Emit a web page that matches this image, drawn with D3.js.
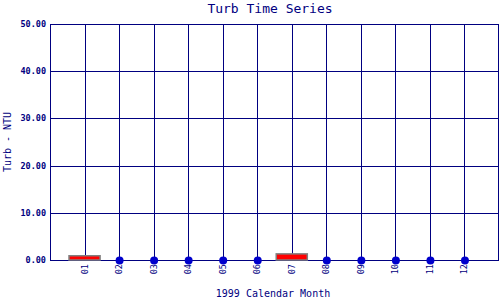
<!DOCTYPE html>
<html>
<head>
    <meta charset="utf-8">
    <title>Turb Time Series</title>
    <script src="https://d3js.org/d3.v7.min.js"></script>
    <style>
        body {
            margin: 0;
            background-color: white;
        }
        svg {
            display: block;
            font-family: "DejaVu Sans Mono", monospace;
        }
        .grid line,
        .frame {
            stroke: #000080;
            stroke-width: 1px;
            fill: none;
            shape-rendering: crispEdges;
        }
        .bar {
            fill: #ff0000;
            stroke: #808080;
            stroke-width: 1.5px;
        }
        .dot {
            fill: #0000cc;
        }
    </style>
</head>
<body>
    <svg width="500" height="300"></svg>

    <script>
        const months = ["01", "02", "03", "04", "05", "06", "07", "08", "09", "10", "11", "12"];
        const turb = [0.9, 0, 0, 0, 0, 0, 1.3, 0, 0, 0, 0, 0];
        const yTicks = [0, 10, 20, 30, 40, 50];

        const svg = d3.select("svg"),
              margin = { top: 24, right: 1, bottom: 40, left: 50 },
              width = +svg.attr("width") - margin.left - margin.right,
              height = +svg.attr("height") - margin.top - margin.bottom;

        const g = svg.append("g").attr("transform", `translate(${margin.left},${margin.top})`);

        const x = d3.scaleLinear()
                    .domain([0, months.length + 1])
                    .range([0, width]);

        const y = d3.scaleLinear()
                    .domain([0, 50])
                    .range([height, 0]);

        const xPos = (d, i) => Math.round(x(i + 1)) + 0.5;

        // Grid
        const grid = g.append("g").attr("class", "grid");
        grid.selectAll(".h")
            .data(yTicks)
            .enter()
            .append("line")
            .attr("x1", 0)
            .attr("x2", width)
            .attr("y1", d => Math.round(y(d)) + 0.5)
            .attr("y2", d => Math.round(y(d)) + 0.5);

        grid.selectAll(".v")
            .data(months)
            .enter()
            .append("line")
            .attr("x1", xPos)
            .attr("x2", xPos)
            .attr("y1", 0)
            .attr("y2", height);

        g.append("rect")
         .attr("class", "frame")
         .attr("x", 0.5)
         .attr("y", 0.5)
         .attr("width", width - 1)
         .attr("height", height);

        // Y tick labels
        g.selectAll(".ylab")
         .data(yTicks)
         .enter()
         .append("text")
         .attr("x", -4)
         .attr("y", d => y(d) + 3)
         .attr("text-anchor", "end")
         .attr("font-size", "8.5px")
         .attr("font-weight", "bold")
         .attr("fill", "#000080")
         .text(d => d.toFixed(2));

        // X tick labels
        g.selectAll(".xlab")
         .data(months)
         .enter()
         .append("text")
         .attr("transform", (d, i) => `translate(${x(i + 1) + 3},${height + 4}) rotate(-90)`)
         .attr("text-anchor", "end")
         .attr("font-size", "8.5px")
         .attr("fill", "#000080")
         .text(d => d);

        // Bars and dots
        const barW = x(0.9) - x(0);
        g.selectAll(".bar")
         .data(turb.map((v, i) => ({ v, i })).filter(d => d.v > 0))
         .enter()
         .append("rect")
         .attr("class", "bar")
         .attr("x", d => x(d.i + 1) - barW / 2)
         .attr("y", d => y(d.v))
         .attr("width", barW)
         .attr("height", d => height - y(d.v));

        g.selectAll(".dot")
         .data(turb.map((v, i) => ({ v, i })).filter(d => d.v === 0))
         .enter()
         .append("circle")
         .attr("class", "dot")
         .attr("cx", d => x(d.i + 1) + 0.5)
         .attr("cy", d => y(d.v) + 0.5)
         .attr("r", 4);

        // Titles
        svg.append("text")
           .attr("x", 270)
           .attr("y", 13)
           .attr("text-anchor", "middle")
           .attr("font-size", "13px")
           .attr("fill", "#000080")
           .text("Turb Time Series");

        svg.append("text")
           .attr("transform", `translate(11,${margin.top + height / 2}) rotate(-90)`)
           .attr("text-anchor", "middle")
           .attr("font-size", "10px")
           .attr("fill", "#000080")
           .text("Turb - NTU");

        svg.append("text")
           .attr("x", 273)
           .attr("y", 297)
           .attr("text-anchor", "middle")
           .attr("font-size", "10px")
           .attr("fill", "#000080")
           .text("1999 Calendar Month");
    </script>
</body>
</html>
